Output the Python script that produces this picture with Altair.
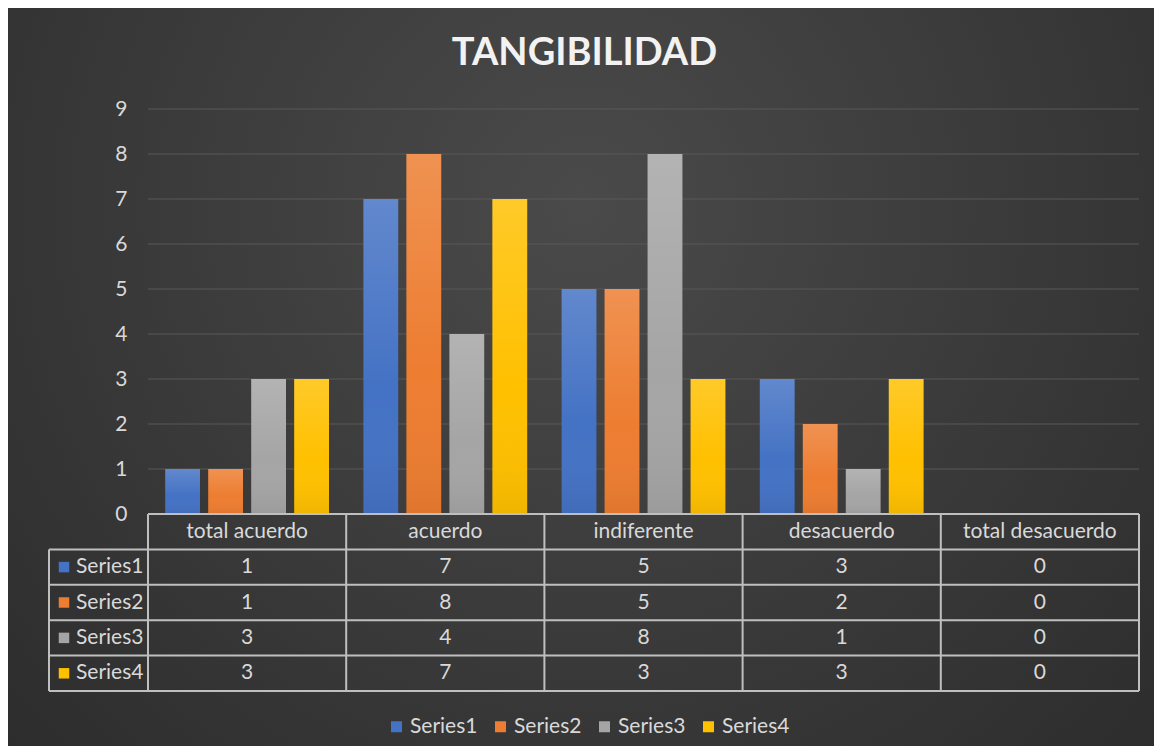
import altair as alt
import pandas as pd

# ---------------- data ----------------
categories = ["total acuerdo", "acuerdo", "indiferente", "desacuerdo", "total desacuerdo"]
series_names = ["Series1", "Series2", "Series3", "Series4"]
series1 = [1, 7, 5, 3, 0]
series2 = [1, 8, 5, 2, 0]
series3 = [3, 4, 8, 1, 0]
series4 = [3, 7, 3, 3, 0]
y_ticks = [0, 1, 2, 3, 4, 5, 6, 7, 8, 9]
colors = ["#4472C4", "#ED7D31", "#A5A5A5", "#FFC000"]
title_text = "TANGIBILIDAD"

# ---------------- layout ----------------
W, H = 991, 405
PAD_L, PAD_T, PAD_R, PAD_B = 140, 101, 15, 232
ROW_H = 35.4
TABLE_BOTTOM = H + 5 * ROW_H
LEFT_COL = -99
FONT = "Lato"
TXT = "#d9d9d9"
LINE = "#bfbfbf"
FS = 21

rows = []
for s, vals in zip(series_names, [series1, series2, series3, series4]):
    for c, v in zip(categories, vals):
        rows.append({"category": c, "series": s, "value": v})
df = pd.DataFrame(rows)
cat_df = pd.DataFrame({"category": categories, "row": ["header"] * len(categories)})
tick_df = pd.DataFrame({"value": y_ticks})
ser_df = pd.DataFrame({"series": series_names})
one = pd.DataFrame({"k": [0]})

x_scale = alt.Scale(domain=categories, paddingInner=0, paddingOuter=0)
y_scale = alt.Scale(domain=[0, 9], nice=False, zero=True)
xo_scale = alt.Scale(domain=series_names, paddingInner=0.19, paddingOuter=0.4)
color_scale = alt.Scale(domain=series_names, range=colors)
table_rows = ["header"] + series_names
t_scale = alt.Scale(type="band", domain=table_rows, range=[H, TABLE_BOTTOM],
                    paddingInner=0, paddingOuter=0)

y_axis = alt.Axis(values=y_ticks, grid=False, domain=False, ticks=False,
                  tickSize=0, labelPadding=21, labelColor=TXT,
                  labelFontSize=FS, labelFont=FONT, zindex=1)

def X(pos=0.5):
    return alt.X("category:N", sort=categories, scale=x_scale, axis=None, bandPosition=pos)

def Yv():
    return alt.Y("value:Q", scale=y_scale, title=None, axis=y_axis)

# background
bg = alt.Chart(one).mark_rect(
    fill=alt.Gradient(
        gradient="radial",
        stops=[alt.GradientStop(color="#4a4a4a", offset=0),
               alt.GradientStop(color="#262626", offset=1)],
        x1=0.5, y1=0.35, r1=0, x2=0.5, y2=0.35, r2=0.85,
    )
).encode(x=alt.value(-PAD_L), x2=alt.value(W + PAD_R),
         y=alt.value(-PAD_T), y2=alt.value(H + PAD_B))

grid = alt.Chart(tick_df).mark_rule(color="#595959", strokeWidth=1).encode(
    y=Yv(), x=alt.value(0), x2=alt.value(W),
)

bars = alt.Chart(df).mark_bar().encode(
    x=X(),
    xOffset=alt.XOffset("series:N", sort=series_names, scale=xo_scale),
    y=Yv(),
    color=alt.Color("series:N", scale=color_scale, title=None,
                    legend=alt.Legend(orient="none", direction="horizontal",
                                      legendX=238, legendY=607,
                                      symbolType="square", symbolSize=121,
                                      symbolStrokeWidth=0, symbolOpacity=1,
                                      labelColor=TXT, labelFontSize=FS,
                                      labelFont=FONT, labelOffset=3,
                                      columnPadding=12)),
)

shine = alt.Chart(df).mark_bar(
    fill=alt.Gradient(
        gradient="linear",
        stops=[alt.GradientStop(color="rgba(255,255,255,0.16)", offset=0),
               alt.GradientStop(color="rgba(255,255,255,0.0)", offset=0.6),
               alt.GradientStop(color="rgba(0,0,0,0.06)", offset=1)],
        x1=0, y1=0, x2=0, y2=1,
    )
).encode(
    x=X(),
    xOffset=alt.XOffset("series:N", sort=series_names, scale=xo_scale),
    y=Yv(),
)

main = alt.layer(bg, grid, bars, shine)

# ---------------- data table ----------------
Yt = lambda field, pos=0.5: alt.Y(field, scale=t_scale, axis=None, bandPosition=pos)

h_header = alt.Chart(cat_df.head(1)).mark_rule(color=LINE, strokeWidth=2).encode(
    y=Yt("row:N", 0), x=alt.value(0), x2=alt.value(W))
h_rows = alt.Chart(ser_df).mark_rule(color=LINE, strokeWidth=2).encode(
    y=Yt("series:N", 0), x=alt.value(LEFT_COL), x2=alt.value(W))
h_bottom = alt.Chart(ser_df.tail(1)).mark_rule(color=LINE, strokeWidth=2).encode(
    y=Yt("series:N", 1), x=alt.value(LEFT_COL), x2=alt.value(W))
v_cats = alt.Chart(cat_df).mark_rule(color=LINE, strokeWidth=2).encode(
    x=X(0), y=alt.value(H), y2=alt.value(TABLE_BOTTOM))
v_last = alt.Chart(cat_df.tail(1)).mark_rule(color=LINE, strokeWidth=2).encode(
    x=X(1), y=alt.value(H), y2=alt.value(TABLE_BOTTOM))
v_left = alt.Chart(one).mark_rule(color=LINE, strokeWidth=2).encode(
    x=alt.value(LEFT_COL), y=alt.value(H + ROW_H), y2=alt.value(TABLE_BOTTOM))

head_txt = alt.Chart(cat_df).mark_text(font=FONT, fontSize=FS, color=TXT, baseline="middle").encode(
    x=X(), y=Yt("row:N"), text="category:N")
val_txt = alt.Chart(df).mark_text(font=FONT, fontSize=FS, color=TXT, baseline="middle").encode(
    x=X(), y=Yt("series:N"), text="value:Q")
row_lbl = alt.Chart(ser_df).mark_text(font=FONT, fontSize=FS, color=TXT, baseline="middle",
                                      align="left").encode(
    x=alt.value(LEFT_COL + 27), y=Yt("series:N"), text="series:N")
row_sym = alt.Chart(ser_df).mark_square(size=110, opacity=1).encode(
    x=alt.value(LEFT_COL + 15), y=Yt("series:N"),
    color=alt.Color("series:N", scale=color_scale, legend=None))

table = alt.layer(h_header, h_rows, h_bottom, v_cats, v_last, v_left,
                  head_txt, val_txt, row_lbl, row_sym)

chart = alt.layer(main, table).resolve_scale(y="independent").properties(
    width=W, height=H,
    padding={"left": PAD_L, "top": PAD_T, "right": PAD_R, "bottom": PAD_B},
    autosize=alt.AutoSizeParams(type="none"),
    background="#2b2b2b",
    title=alt.TitleParams(title_text, font=FONT, fontSize=38, fontWeight="bold",
                          color="#f2f2f2", anchor="middle", baseline="alphabetic",
                          dx=-59, dy=95, offset=0),
).configure_view(stroke=None)

chart.save("out.html", embed_options={"renderer": "svg", "actions": False})
